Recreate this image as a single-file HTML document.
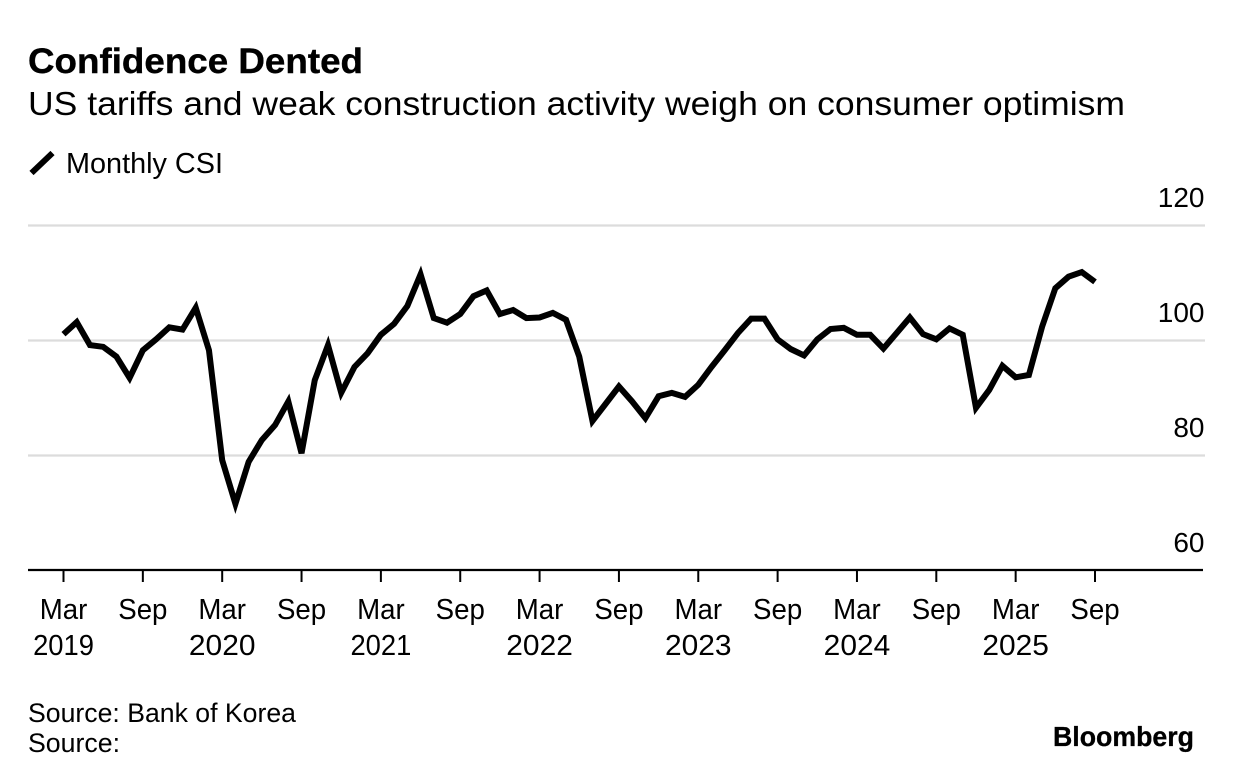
<!DOCTYPE html>
<html lang="en">
<head>
<meta charset="utf-8">
<title>Confidence Dented</title>
<style>
html,body{margin:0;padding:0;background:#fff;}
svg{display:block;font-family:"Liberation Sans",Arial,sans-serif;fill:#000;}
</style>
</head>
<body>
<svg id="chart" width="1233" height="782" viewBox="0 0 1233 782" xmlns="http://www.w3.org/2000/svg">
  <rect x="0" y="0" width="1233" height="782" fill="#ffffff"/>
  <text x="28" y="73" font-size="35.5" font-weight="700" stroke="#000" stroke-width="0.4" textLength="335" lengthAdjust="spacingAndGlyphs">Confidence Dented</text>
  <text x="28" y="115" font-size="33" textLength="1097" lengthAdjust="spacingAndGlyphs">US tariffs and weak construction activity weigh on consumer optimism</text>
  <line x1="31.5" y1="173" x2="52.5" y2="153" stroke="#000" stroke-width="6"/>
  <text x="66" y="173" font-size="28.5" textLength="157" lengthAdjust="spacingAndGlyphs">Monthly CSI</text>
  <g id="grid"></g>
  <g id="yaxis"></g>
  <g id="xaxis"></g>
  <path id="series" fill="none" stroke="#000" stroke-width="6" stroke-linejoin="miter" stroke-miterlimit="4"/>
  <text x="28" y="722" font-size="26.5" textLength="268" lengthAdjust="spacingAndGlyphs">Source: Bank of Korea</text>
  <text x="28" y="752" font-size="26.5" textLength="92" lengthAdjust="spacingAndGlyphs">Source:</text>
  <text x="1053" y="746" font-size="27.5" font-weight="700" stroke="#000" stroke-width="0.3" textLength="141" lengthAdjust="spacingAndGlyphs">Bloomberg</text>
</svg>
<script>
const categories = [
  "2019-03","2019-04","2019-05","2019-06","2019-07","2019-08","2019-09","2019-10","2019-11","2019-12",
  "2020-01","2020-02","2020-03","2020-04","2020-05","2020-06","2020-07","2020-08","2020-09","2020-10","2020-11","2020-12",
  "2021-01","2021-02","2021-03","2021-04","2021-05","2021-06","2021-07","2021-08","2021-09","2021-10","2021-11","2021-12",
  "2022-01","2022-02","2022-03","2022-04","2022-05","2022-06","2022-07","2022-08","2022-09","2022-10","2022-11","2022-12",
  "2023-01","2023-02","2023-03","2023-04","2023-05","2023-06","2023-07","2023-08","2023-09","2023-10","2023-11","2023-12",
  "2024-01","2024-02","2024-03","2024-04","2024-05","2024-06","2024-07","2024-08","2024-09","2024-10","2024-11","2024-12",
  "2025-01","2025-02","2025-03","2025-04","2025-05","2025-06","2025-07","2025-08","2025-09"
];
const csiValues = [
  101.1,103.2,99.2,98.9,97.2,93.5,98.3,100.2,102.3,101.9,
  105.7,98.3,79.2,71.6,78.9,82.7,85.3,89.4,80.4,93.1,99.2,90.9,
  95.4,97.8,101,102.9,106,111.5,103.9,103.1,104.6,107.7,108.7,104.6,
  105.3,103.9,104,104.8,103.6,97.2,86,89,92,89.4,86.5,90.3,
  90.9,90.2,92.3,95.4,98.3,101.3,103.8,103.8,100.2,98.5,97.4,100.2,
  102,102.2,101,101,98.6,101.3,104,101.1,100.2,102.1,101,88.3,
  91.4,95.6,93.6,94,102.4,109.1,111.1,111.9,110.2
];
const yTicks = [60,80,100,120];
const xTickCategories = ["2019-03","2019-09","2020-03","2020-09","2021-03","2021-09","2022-03","2022-09","2023-03","2023-09","2024-03","2024-09","2025-03","2025-09"];
const xTickMonths = ["Mar","Sep","Mar","Sep","Mar","Sep","Mar","Sep","Mar","Sep","Mar","Sep","Mar","Sep"];
const xTickYears = ["2019","","2020","","2021","","2022","","2023","","2024","","2025",""];

const NS = "http://www.w3.org/2000/svg";
function xPos(index){ return 63.5 + index * (1095 - 63.5) / 78; }
function yPos(value){ return 570.5 - (value - 60) * (570.5 - 225.5) / 60; }
function make(tag, attrs, parent, content){
  const el = document.createElementNS(NS, tag);
  for (const k in attrs) el.setAttribute(k, attrs[k]);
  if (content !== undefined) el.textContent = content;
  parent.appendChild(el);
  return el;
}
const gridG = document.getElementById("grid");
const yG = document.getElementById("yaxis");
const xG = document.getElementById("xaxis");

yTicks.forEach(function(t){
  if (t !== 60) {
    const g = make("line", {x1:28, x2:1205, y1:yPos(t), y2:yPos(t), stroke:"#dcdcdc", "stroke-width":2.2}, gridG);
    
    
  }
  const lab = make("text", {x:1204.5, y:yPos(t) - 18.5, "font-size":28, "text-anchor":"end"}, yG, String(t));
  
  
});

const axisLine = make("line", {x1:28, x2:1203, y1:570, y2:570, stroke:"#000", "stroke-width":2.2}, xG);



xTickCategories.forEach(function(c, i){
  const xp = xPos(categories.indexOf(c));
  const tick = make("line", {x1:xp, x2:xp, y1:570, y2:582, stroke:"#000", "stroke-width":2}, xG);
  
  
  const m = make("text", {"font-size":28.5, "text-anchor":"middle", transform:"translate(" + xp + " 619) scale(0.97 1)"}, xG, xTickMonths[i]);
  
  
  if (xTickYears[i]) {
    const yearScale = xTickYears[i].indexOf("1") >= 0 ? 0.96 : 1.05;
    const yr = make("text", {"font-size":28.5, "text-anchor":"middle", transform:"translate(" + xp + " 655) scale(" + yearScale + " 1)"}, xG, xTickYears[i]);
    
    
  }
});

document.getElementById("series").setAttribute("d",
  csiValues.map(function(v, i){
    return (i ? "L" : "M") + xPos(i).toFixed(2) + " " + yPos(v).toFixed(2);
  }).join(" ")
);
</script>
</body>
</html>
